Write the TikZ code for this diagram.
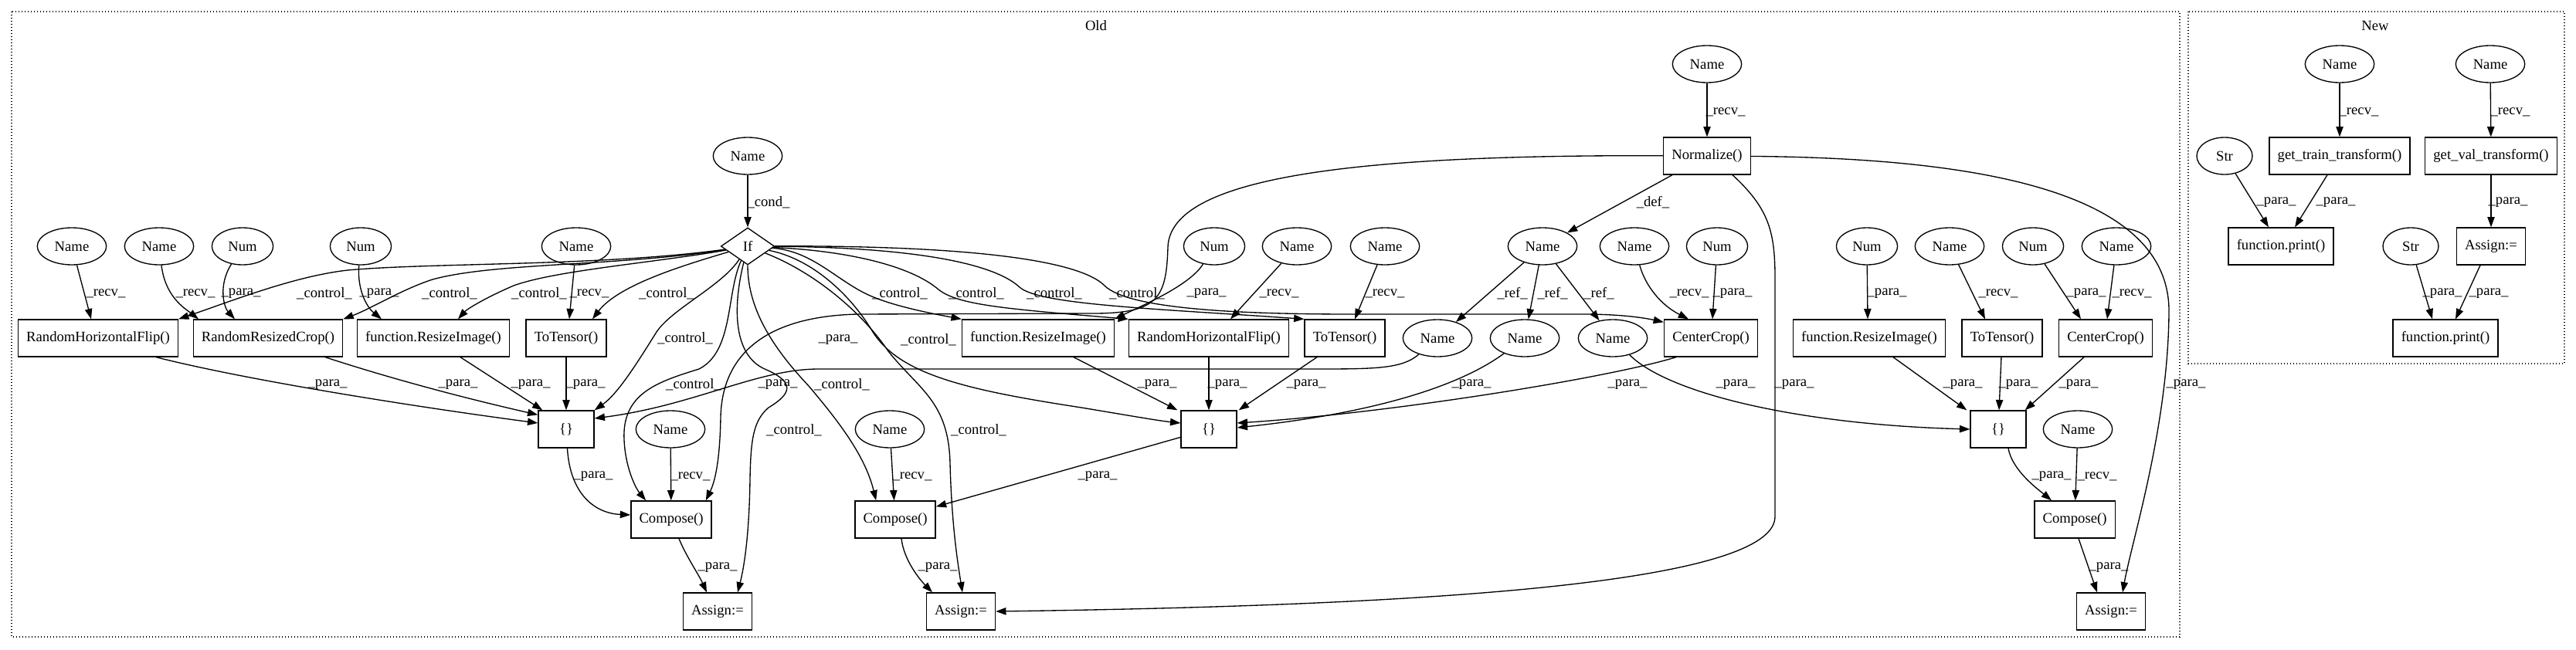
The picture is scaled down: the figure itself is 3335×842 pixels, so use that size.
\documentclass[tikz,border=0pt]{standalone}
\usepackage{fontspec}
\setmainfont{Liberation Serif}
\usetikzlibrary{shapes.geometric, arrows.meta, calc}

\begin{document}
\begin{tikzpicture}[
    x=0.75pt, y=-0.75pt,
    every node/.style = {font=\fontsize{14}{16}\selectfont},
    ell/.style  = {draw, ellipse, line width=1pt, minimum width=54pt,
                   minimum height=36pt, inner xsep=7pt},
    box/.style  = {draw, rectangle, line width=1pt, minimum width=54pt,
                   minimum height=36pt, inner xsep=8pt},
    ifbox/.style = {draw, diamond, line width=1pt, aspect=1.45,
                   minimum width=52pt, minimum height=36pt, inner sep=0pt},
    arr/.style  = {-{Triangle[length=10pt, width=7pt]}, line width=1pt},
    lbl/.style  = {inner sep=0pt},
    clus/.style = {draw, dotted, line width=1pt},
]
\useasboundingbox (0,0) rectangle (3335,842);

% Clusters
\draw[clus] (15,15) rectangle (2822,825);
\node (oldlab) at (1419,33) {Old};
\draw[clus] (2833,15) rectangle (3320,471);
\node (newlab) at (3075,33) {New};

% Condition
\node[ell]   (nCond) at (968,202) {Name};
\node[ifbox] (nIf)   at (968,319) {If};

% First list
\node[ell] (nA1) at (93,319)  {Name};
\node[ell] (nA2) at (206,319) {Name};
\node[ell] (mA1) at (314,319) {Num};
\node[ell] (mA2) at (467,319) {Num};
\node[ell] (nA3) at (746,319) {Name};
\node[box] (fA1) at (127,438) {RandomHorizontalFlip()};
\node[box] (fA2) at (347,438) {RandomResizedCrop()};
\node[box] (fA3) at (561,438) {function.ResizeImage()};
\node[box] (fA4) at (733,438) {ToTensor()};
\node[box] (sA)  at (733,556) {\{\}};
\node[ell] (nA4) at (868,556) {Name};
\node[box] (cA)  at (869,673) {Compose()};
\node[box] (aA)  at (929,792) {Assign:=};

% Second list
\node[ell] (mB1)  at (1572,319) {Num};
\node[ell] (nB1)  at (1679,319) {Name};
\node[ell] (nB2)  at (1793,319) {Name};
\node[ell] (nDef) at (1997,319) {Name};
\node[ell] (nB3)  at (2116,319) {Name};
\node[ell] (mB2)  at (2223,319) {Num};
\node[box] (fB1) at (1344,438) {function.ResizeImage()};
\node[box] (fB2) at (1565,438) {RandomHorizontalFlip()};
\node[box] (fB3) at (1741,438) {ToTensor()};
\node[ell] (rB1) at (1861,438) {Name};
\node[ell] (rB2) at (1974,438) {Name};
\node[ell] (rB3) at (2088,438) {Name};
\node[box] (fB4) at (2215,438) {CenterCrop()};
\node[box] (sB)  at (1565,556) {\{\}};
\node[ell] (nB4) at (1152,556) {Name};
\node[box] (cB)  at (1159,673) {Compose()};
\node[box] (aB)  at (1244,792) {Assign:=};

% Normalize
\node[ell] (nNrm) at (2210,83)  {Name};
\node[box] (fNrm) at (2210,202) {Normalize()};

% Third list
\node[ell] (mC1) at (2417,319) {Num};
\node[ell] (nC1) at (2524,319) {Name};
\node[ell] (mC2) at (2632,319) {Num};
\node[ell] (nC2) at (2740,319) {Name};
\node[box] (fC1) at (2420,438) {function.ResizeImage()};
\node[box] (fC2) at (2592,438) {ToTensor()};
\node[box] (fC3) at (2726,438) {CenterCrop()};
\node[box] (sC)  at (2587,556) {\{\}};
\node[ell] (nC3) at (2690,556) {Name};
\node[box] (cC)  at (2686,673) {Compose()};
\node[box] (aC)  at (2733,792) {Assign:=};

% New
\node[ell] (nN1) at (3029,83)  {Name};
\node[ell] (nN2) at (3224,83)  {Name};
\node[ell] (sN1) at (2880,202) {Str};
\node[box] (gT)  at (3029,202) {get\_train\_transform()};
\node[box] (gV)  at (3225,202) {get\_val\_transform()};
\node[box] (pN1) at (2953,319) {function.print()};
\node[ell] (sN2) at (3121,319) {Str};
\node[box] (aN)  at (3225,319) {Assign:=};
\node[box] (pN2) at (3166,438) {function.print()};

% Condition edge
\draw[arr] (nCond) -- (nIf) node[lbl] at (995,262) {\_cond\_};

% First list: arguments
\draw[arr] (nA1) -- ($(fA1.north)+(-9,0)$) node[lbl] at (137,380) {\_recv\_};
\draw[arr] (nA2) .. controls (214,385) and (240,400) .. ($(fA2.north)+(-90,0)$) node[lbl] at (253,380) {\_recv\_};
\draw[arr] (mA1) .. controls (282,370) and (290,398) .. ($(fA2.north)+(-43,0)$) node[lbl] at (312,380) {\_para\_};
\draw[arr] (mA2) .. controls (462,375) and (475,398) .. ($(fA3.north)+(-67,0)$) node[lbl] at (491,380) {\_para\_};
\draw[arr] (nA3) -- ($(fA4.north)+(4,0)$) node[lbl] at (763,380) {\_recv\_};

% First list: control from If
\draw[arr] (nIf) .. controls (780,345) and (560,340) .. (450,350) .. controls (380,358) and (300,390) .. (fA1.north east) node[lbl] at (420,380) {\_control\_};
\draw[arr] (nIf) .. controls (800,345) and (640,340) .. (560,362) .. controls (520,375) and (480,400) .. (fA2.north east) node[lbl] at (582,380) {\_control\_};
\draw[arr] (nIf) .. controls (850,340) and (720,350) .. (665,370) .. controls (630,385) and (605,400) .. ($(fA3.north)+(32,0)$) node[lbl] at (698,380) {\_control\_};
\draw[arr] (nIf) .. controls (880,345) and (800,370) .. ($(fA4.north)+(34,0)$) node[lbl] at (863,380) {\_control\_};
\draw[arr] (nIf) .. controls (935,370) and (870,400) .. (850,430) .. controls (825,470) and (800,510) .. (sA.north east) node[lbl] at (887,438) {\_control\_};
\draw[arr] (nIf) .. controls (940,380) and (950,455) .. (905,478) .. controls (850,495) and (805,510) .. (808,570) .. controls (810,610) and (825,635) .. ($(cA.north west)+(20,0)$) node[lbl] at (898,498) {\_control\_};
\draw[arr] (nIf) .. controls (948,400) and (950,460) .. (990,478) .. controls (1030,495) and (1025,510) .. (995,528) .. controls (975,545) and (972,570) .. (971,620) .. controls (970,700) and (962,740) .. ($(aA.north)+(26,0)$) node[lbl] at (1028,557) {\_control\_};

% First list: into {}
\draw[arr] ($(fA1.south)+(75,0)$) .. controls (330,495) and (560,530) .. ($(sA.west)+(0,-8)$) node[lbl] at (424,498) {\_para\_};
\draw[arr] ($(fA2.south)+(74,0)$) .. controls (520,495) and (620,520) .. ($(sA.north west)+(0,6)$) node[lbl] at (593,498) {\_para\_};
\draw[arr] ($(fA3.south)+(35,0)$) -- ($(sA.north west)+(6,0)$) node[lbl] at (687,498) {\_para\_};
\draw[arr] (fA4) -- (sA) node[lbl] at (758,498) {\_para\_};
\draw[arr] (rB1) .. controls (1815,478) and (1780,478) .. (1700,478) -- (1060,478) .. controls (980,478) and (900,525) .. ($(sA.east)+(0,-14)$) node[lbl] at (1007,498) {\_para\_};

% First list: Compose and Assign
\draw[arr] (sA) .. controls (738,640) and (770,665) .. ($(cA.west)+(0,-6)$) node[lbl] at (768,617) {\_para\_};
\draw[arr] (nA4) -- (cA) node[lbl] at (894,617) {\_recv\_};
\draw[arr] (fNrm) .. controls (1750,200) and (1515,230) .. (1512,320) .. controls (1510,385) and (1500,405) .. (1420,406) -- (1110,407) .. controls (990,410) and (935,460) .. (933,540) .. controls (932,600) and (925,625) .. ($(cA.north east)+(-8,0)$) node[lbl] at (1085,440) {\_para\_};
\draw[arr] ($(cA.south)+(10,0)$) .. controls (888,720) and (905,745) .. ($(aA.north)+(-14,0)$) node[lbl] at (929,735) {\_para\_};

% Second list: arguments
\draw[arr] (mB1) .. controls (1540,370) and (1480,395) .. (fB1.north east) node[lbl] at (1562,380) {\_para\_};
\draw[arr] (nB1) -- ($(fB2.north)+(28,0)$) node[lbl] at (1656,380) {\_recv\_};
\draw[arr] (nB2) -- ($(fB3.north)+(13,0)$) node[lbl] at (1793,380) {\_recv\_};
\draw[arr] (nDef) -- (rB1) node[lbl] at (1958,380) {\_ref\_};
\draw[arr] (nDef) -- (rB2) node[lbl] at (2010,380) {\_ref\_};
\draw[arr] (nDef) -- (rB3) node[lbl] at (2070,380) {\_ref\_};
\draw[arr] (nB3) .. controls (2130,370) and (2150,395) .. ($(fB4.north)+(-29,0)$) node[lbl] at (2187,380) {\_recv\_};
\draw[arr] (mB2) -- ($(fB4.north)+(2,0)$) node[lbl] at (2243,380) {\_para\_};

% Second list: control from If
\draw[arr] (nIf) .. controls (1050,325) and (1080,360) .. (1120,380) .. controls (1150,395) and (1200,405) .. (fB1.north west) node[lbl] at (1165,380) {\_control\_};
\draw[arr] (nIf) .. controls (1100,325) and (1180,345) .. (1215,375) .. controls (1240,395) and (1300,400) .. (fB2.north west) node[lbl] at (1264,380) {\_control\_};
\draw[arr] (nIf) .. controls (1150,320) and (1280,335) .. (1320,372) .. controls (1345,395) and (1500,400) .. (fB3.north west) node[lbl] at (1365,380) {\_control\_};
\draw[arr] (nIf) .. controls (1200,318) and (1390,330) .. (1430,370) .. controls (1460,400) and (1600,407) .. (1750,407) -- (2050,407) .. controls (2100,407) and (2130,412) .. ($(fB4.north west)+(0,4)$) node[lbl] at (1472,380) {\_control\_};
\draw[arr] (nIf) .. controls (1050,335) and (1100,380) .. (1130,430) .. controls (1165,485) and (1250,505) .. (1400,528) .. controls (1460,538) and (1500,545) .. ($(sB.west)+(0,-8)$) node[lbl] at (1202,440) {\_control\_};
\draw[arr] (nIf) .. controls (968,400) and (1000,450) .. (1047,500) .. controls (1085,545) and (1120,590) .. ($(cB.north west)+(28,0)$) node[lbl] at (1090,498) {\_control\_};
\draw[arr] (nIf) .. controls (1060,355) and (1120,410) .. (1150,455) .. controls (1190,505) and (1228,520) .. (1230,600) .. controls (1232,680) and (1240,730) .. ($(aB.north)+(2,0)$) node[lbl] at (1267,557) {\_control\_};

% Second list: into {}
\draw[arr] ($(fB1.south)+(46,0)$) -- ($(sB.north west)+(-4,0)$) node[lbl] at (1498,498) {\_para\_};
\draw[arr] (fB2) -- (sB) node[lbl] at (1589,498) {\_para\_};
\draw[arr] ($(fB3.south)+(-36,0)$) -- ($(sB.north east)+(2,0)$) node[lbl] at (1691,498) {\_para\_};
\draw[arr] (rB2) .. controls (1890,500) and (1780,535) .. ($(sB.east)+(0,-2)$) node[lbl] at (1905,498) {\_para\_};
\draw[arr] ($(fB4.south)+(-45,0)$) .. controls (2080,490) and (1800,535) .. ($(sB.east)+(0,-8)$) node[lbl] at (2107,498) {\_para\_};

% Second list: Compose and Assign
\draw[arr] (sB) -- ($(cB.north east)+(0,8)$) node[lbl] at (1421,617) {\_para\_};
\draw[arr] (nB4) -- (cB) node[lbl] at (1181,617) {\_recv\_};
\draw[arr] ($(cB.south)+(8,0)$) .. controls (1170,725) and (1190,750) .. ($(aB.north)+(-37,0)$) node[lbl] at (1214,735) {\_para\_};

% Normalize
\draw[arr] (nNrm) -- (fNrm) node[lbl] at (2234,145) {\_recv\_};
\draw[arr] ($(fNrm.south)+(-45,0)$) -- (nDef) node[lbl] at (2140,262) {\_def\_};
\draw[arr] ($(fNrm.south)+(33,0)$) .. controls (2290,270) and (2298,300) .. (2298,360) -- (2298,670) .. controls (2295,760) and (1800,785) .. (aB.east) node[lbl] at (2323,498) {\_para\_};
\draw[arr] (fNrm) .. controls (2600,205) and (2805,260) .. (2808,400) .. controls (2808,550) and (2760,700) .. ($(aC.north)+(15,0)$) node[lbl] at (2830,498) {\_para\_};

% Third list
\draw[arr] (mC1) -- ($(fC1.north)+(-2,0)$) node[lbl] at (2443,380) {\_para\_};
\draw[arr] (nC1) -- ($(fC2.north)+(-22,0)$) node[lbl] at (2587,380) {\_recv\_};
\draw[arr] (mC2) -- ($(fC3.north)+(-32,0)$) node[lbl] at (2701,380) {\_para\_};
\draw[arr] (nC2) -- ($(fC3.north)+(2,0)$) node[lbl] at (2760,380) {\_recv\_};
\draw[arr] ($(fC1.south)+(31,0)$) -- ($(sC.north west)+(-4,0)$) node[lbl] at (2541,498) {\_para\_};
\draw[arr] (fC2) -- (sC) node[lbl] at (2613,498) {\_para\_};
\draw[arr] ($(fC3.south)+(-28,0)$) -- ($(sC.north east)+(-2,0)$) node[lbl] at (2691,498) {\_para\_};
\draw[arr] (rB3) .. controls (2160,510) and (2330,550) .. (sC.west) node[lbl] at (2247,498) {\_para\_};
\draw[arr] ($(sC.south)+(13,0)$) .. controls (2605,610) and (2640,635) .. ($(cC.north)+(-30,0)$) node[lbl] at (2656,617) {\_para\_};
\draw[arr] (nC3) -- (cC) node[lbl] at (2715,617) {\_recv\_};
\draw[arr] ($(cC.south)+(5,0)$) -- ($(aC.north)+(-18,0)$) node[lbl] at (2730,735) {\_para\_};

% New
\draw[arr] (nN1) -- (gT) node[lbl] at (3054,145) {\_recv\_};
\draw[arr] (nN2) -- (gV) node[lbl] at (3250,145) {\_recv\_};
\draw[arr] (sN1) -- ($(pN1.north)+(-16,0)$) node[lbl] at (2947,262) {\_para\_};
\draw[arr] ($(gT.south)+(-16,0)$) -- ($(pN1.north)+(18,0)$) node[lbl] at (3024,262) {\_para\_};
\draw[arr] (gV) -- (aN) node[lbl] at (3247,262) {\_para\_};
\draw[arr] (sN2) -- ($(pN2.north)+(-17,0)$) node[lbl] at (3162,380) {\_para\_};
\draw[arr] ($(aN.south)+(-14,0)$) -- ($(pN2.north)+(13,0)$) node[lbl] at (3222,380) {\_para\_};

\end{tikzpicture}
\end{document}
